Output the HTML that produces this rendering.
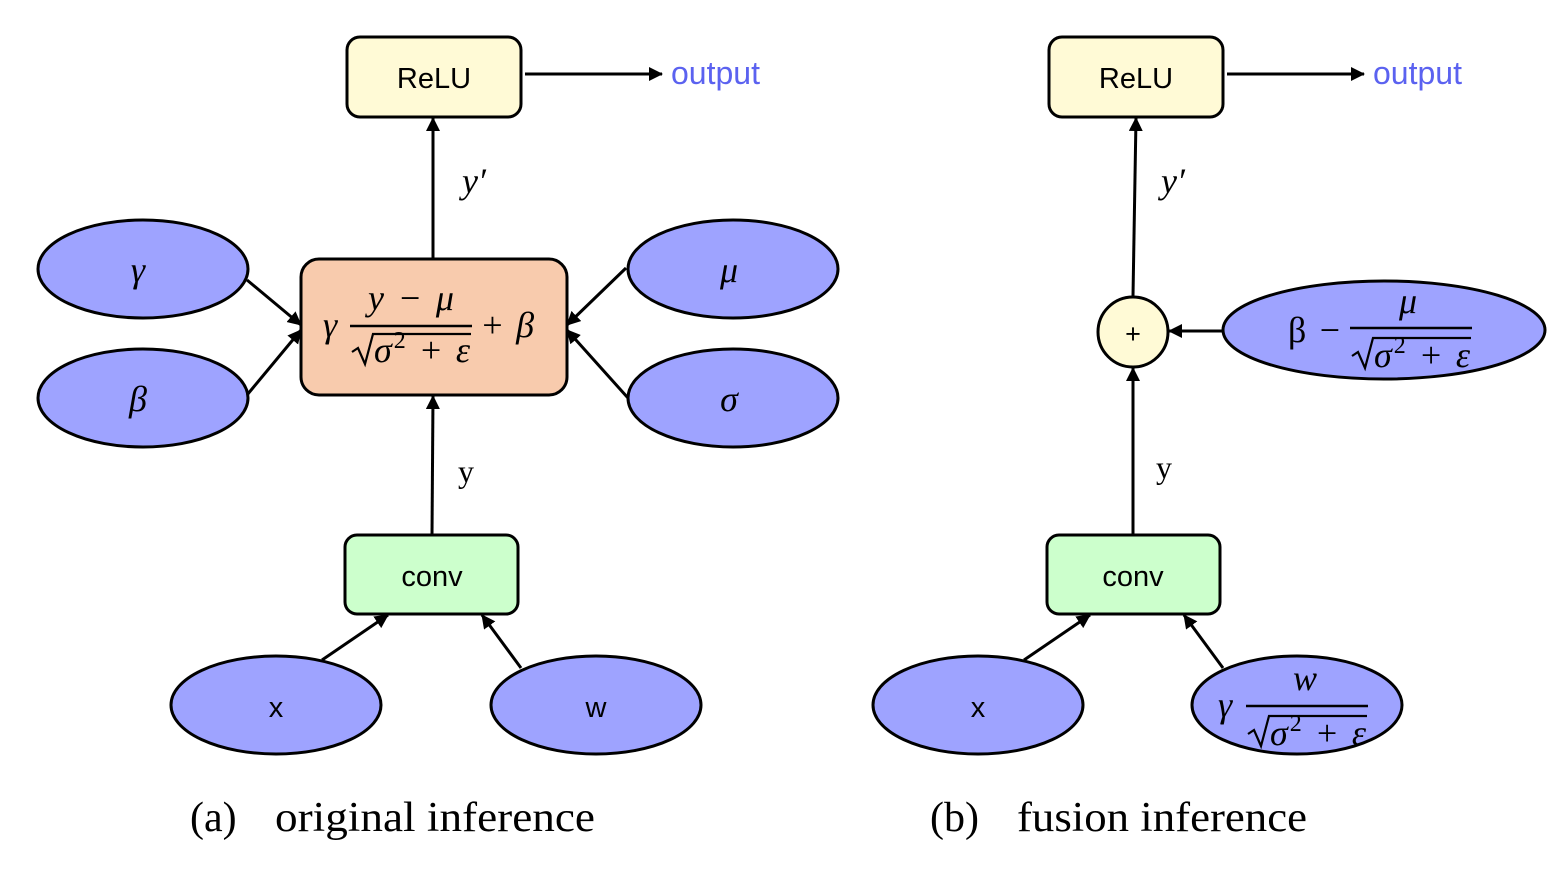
<!DOCTYPE html>
<html><head><meta charset="utf-8"><style>
html,body{margin:0;padding:0;background:#fff;}
svg{display:block;}
.s{font-family:"Liberation Sans",sans-serif;}
.m{font-family:"Liberation Serif",serif;font-style:italic;}
.r{font-family:"Liberation Serif",serif;}
</style></head><body>
<svg width="1568" height="869" viewBox="0 0 1568 869" xmlns="http://www.w3.org/2000/svg">
<defs>
<marker id="b" markerWidth="14" markerHeight="14" refX="13" refY="7" orient="auto" markerUnits="userSpaceOnUse" viewBox="0 0 14 14">
<path d="M0,0 L14,7 L0,14 z" fill="#000"/>
</marker>
</defs>
<g stroke="#000" stroke-width="3">
<rect x="347" y="37" width="174" height="80" rx="13" fill="#fffad6"/>
<rect x="301" y="259" width="266" height="136" rx="18" fill="#f8cbad"/>
<rect x="345" y="535" width="173" height="79" rx="12" fill="#ccffcc"/>
<ellipse cx="143" cy="269" rx="105" ry="49" fill="#9ea3ff"/>
<ellipse cx="143" cy="398" rx="105" ry="49" fill="#9ea3ff"/>
<ellipse cx="733" cy="269" rx="105" ry="49" fill="#9ea3ff"/>
<ellipse cx="733" cy="398" rx="105" ry="49" fill="#9ea3ff"/>
<ellipse cx="276" cy="705" rx="105" ry="49" fill="#9ea3ff"/>
<ellipse cx="596" cy="705" rx="105" ry="49" fill="#9ea3ff"/>
<line x1="525" y1="74" x2="662" y2="74" marker-end="url(#b)"/>
<line x1="433" y1="258" x2="433" y2="118" marker-end="url(#b)"/>
<line x1="432" y1="535" x2="433" y2="396" marker-end="url(#b)"/>
<line x1="247" y1="280" x2="301" y2="325" marker-end="url(#b)"/>
<line x1="247" y1="395" x2="301" y2="330" marker-end="url(#b)"/>
<line x1="626" y1="268" x2="567" y2="325" marker-end="url(#b)"/>
<line x1="628" y1="398" x2="567" y2="330" marker-end="url(#b)"/>
<line x1="322" y1="660" x2="388" y2="615" marker-end="url(#b)"/>
<line x1="521" y1="668" x2="482" y2="615" marker-end="url(#b)"/>
<rect x="1049" y="37" width="174" height="80" rx="13" fill="#fffad6"/>
<rect x="1047" y="535" width="173" height="79" rx="12" fill="#ccffcc"/>
<circle cx="1133" cy="332" r="35" fill="#fffad6"/>
<ellipse cx="1384" cy="330" rx="161" ry="49" fill="#9ea3ff"/>
<ellipse cx="978" cy="705" rx="105" ry="49" fill="#9ea3ff"/>
<ellipse cx="1297" cy="705" rx="105" ry="49" fill="#9ea3ff"/>
<line x1="1227" y1="74" x2="1364" y2="74" marker-end="url(#b)"/>
<line x1="1133" y1="296" x2="1136" y2="118" marker-end="url(#b)"/>
<line x1="1133" y1="535" x2="1133" y2="368" marker-end="url(#b)"/>
<line x1="1222" y1="331" x2="1169" y2="331" marker-end="url(#b)"/>
<line x1="1024" y1="660" x2="1090" y2="615" marker-end="url(#b)"/>
<line x1="1223" y1="668" x2="1184" y2="615" marker-end="url(#b)"/>
</g>
<g stroke="#000" stroke-width="2.5">
<line x1="350" y1="326" x2="472" y2="326"/>
<line x1="1350" y1="328" x2="1472" y2="328"/>
<line x1="1246" y1="706" x2="1368" y2="706"/>
</g>
<g stroke="#000" stroke-width="2.2" fill="none">
<path d="M352,352 l6,-4 l7,16 l8,-30 h98"/>
<path d="M1352,356 l6,-4 l7,16 l8,-30 h98"/>
<path d="M1248,734 l6,-4 l7,16 l8,-30 h98"/>
</g>
<g class="s" font-size="29" text-anchor="middle" fill="#000">
<text x="434" y="88">ReLU</text>
<text x="1136" y="88">ReLU</text>
<text x="432" y="586">conv</text>
<text x="1133" y="586">conv</text>
<text x="276" y="717">x</text>
<text x="596" y="717">w</text>
<text x="978" y="717">x</text>
<text x="1133" y="343" font-size="27">+</text>
</g>
<g class="s" font-size="32" fill="#5b62f0">
<text x="671" y="84">output</text>
<text x="1373" y="84">output</text>
</g>
<g class="m" font-size="36" fill="#000">
<text x="138" y="282" text-anchor="middle">γ</text>
<text x="138" y="411" text-anchor="middle">β</text>
<text x="729" y="282" text-anchor="middle">μ</text>
<text x="729" y="411" text-anchor="middle">σ</text>
<text x="462" y="193">y′</text>
<text x="1161" y="193">y′</text>
<text x="323" y="337">γ</text>
<text x="368" y="310" textLength="86" lengthAdjust="spacing">y − μ</text>
<text x="374" y="362" textLength="96" lengthAdjust="spacing">σ<tspan font-size="24" dy="-14" font-style="normal">2</tspan><tspan dy="14"> + ε</tspan></text>
<text x="480" y="337" textLength="54" lengthAdjust="spacing">+ β</text>
<text x="1399" y="313">μ</text>
<text x="1374" y="367" textLength="96" lengthAdjust="spacing">σ<tspan font-size="24" dy="-14" font-style="normal">2</tspan><tspan dy="14"> + ε</tspan></text>
<text x="1293" y="690">w</text>
<text x="1270" y="745" textLength="96" lengthAdjust="spacing">σ<tspan font-size="24" dy="-14" font-style="normal">2</tspan><tspan dy="14"> + ε</tspan></text>
<text x="1218" y="717">γ</text>
</g>
<g class="r" font-size="32" fill="#000">
<text x="458" y="482">y</text>
<text x="1156" y="478">y</text>
<text x="1288" y="342" font-size="36" textLength="52" lengthAdjust="spacing">β −</text>
</g>
<g class="r" font-size="42" fill="#000">
<text x="190" y="831">(a)</text>
<text x="275" y="831" textLength="320" lengthAdjust="spacingAndGlyphs">original inference</text>
<text x="930" y="831">(b)</text>
<text x="1017" y="831" textLength="290" lengthAdjust="spacingAndGlyphs">fusion inference</text>
</g>
</svg>
</body></html>
